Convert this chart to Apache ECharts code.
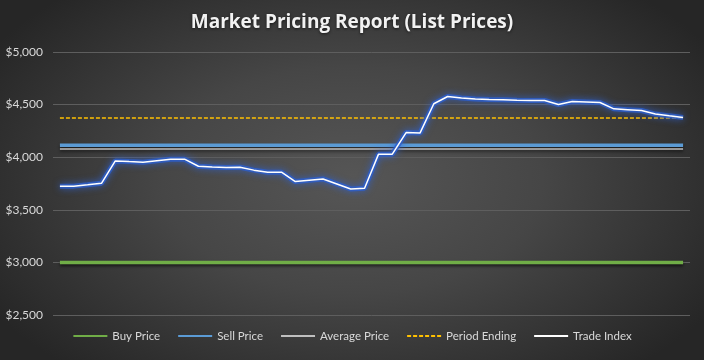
<!DOCTYPE html>
<html>
<head>
<meta charset="utf-8">
<script src="https://cdn.jsdelivr.net/npm/echarts@6/dist/echarts.min.js"></script>
<style>
html,body{margin:0;padding:0;}
#chart{width:704px;height:360px;background:radial-gradient(ellipse 60% 70% at 50% 50%, #565656 0%, #464646 45%, #262626 100%);}
</style>
</head>
<body>
<div id="chart"></div>
<script>
const titleText = 'Market Pricing Report (List Prices)';
const seriesNames = ['Buy Price', 'Sell Price', 'Average Price', 'Period Ending', 'Trade Index'];
const yTicks = { min: 2500, max: 5000, interval: 500 };
const tradeIndex = [3724, 3725, 3738, 3752, 3965, 3958, 3952, 3967, 3981, 3981,
  3914, 3908, 3903, 3905, 3877, 3857, 3857, 3768, 3781, 3793,
  3746, 3698, 3705, 4027, 4029, 4234, 4229, 4508, 4577, 4563,
  4553, 4549, 4546, 4541, 4539, 4539, 4501, 4530, 4525, 4520,
  4460, 4452, 4444, 4410, 4393, 4377];
const buyPriceValue = 3000;
const sellPriceValue = 4113;
const averagePriceValue = 4077;
const periodEndingValue = 4373;
const categories = tradeIndex.map((_, i) => 'P' + (i + 1));
const buyPrice = categories.map(() => buyPriceValue);
const sellPrice = categories.map(() => sellPriceValue);
const averagePrice = categories.map(() => averagePriceValue);
const periodEnding = categories.map(() => periodEndingValue);

const chart = echarts.init(document.getElementById('chart'), null, { renderer: 'canvas' });
const font = 'Lato, "Open Sans", sans-serif';
const dropShadow = { shadowColor: 'rgba(0,0,0,0.6)', shadowBlur: 3, shadowOffsetY: 2 };
chart.setOption({
  animation: false,
  title: {
    text: titleText, left: 'center', top: 8,
    textStyle: { color: '#f2f2f2', fontSize: 19, fontWeight: 'bold', fontFamily: '"Open Sans", Lato, sans-serif',
      textShadowColor: 'rgba(0,0,0,0.6)', textShadowBlur: 3, textShadowOffsetY: 1 }
  },
  legend: {
    bottom: 13, left: 'center', itemWidth: 34, itemHeight: 8, itemGap: 17,
    itemStyle: { opacity: 0 },
    textStyle: { color: '#d9d9d9', fontSize: 11.5, fontFamily: font },
    data: seriesNames
  },
  grid: { left: 53, right: 14, top: 52, bottom: 45 },
  xAxis: {
    type: 'category', data: categories, boundaryGap: true,
    axisLine: { show: false }, axisTick: { show: false }, axisLabel: { show: false }
  },
  yAxis: {
    type: 'value', min: yTicks.min, max: yTicks.max, interval: yTicks.interval,
    axisLine: { show: false }, axisTick: { show: false },
    axisLabel: { color: '#d9d9d9', fontSize: 12, fontFamily: font, margin: 10,
      formatter: v => '$' + v.toLocaleString('en-US') },
    splitLine: { lineStyle: { color: '#5e5e5e', width: 1 } }
  },
  series: [
    { name: seriesNames[0], type: 'line', data: buyPrice, symbol: 'none', color: '#70ad47',
      lineStyle: Object.assign({ color: '#70ad47', width: 3.5 }, dropShadow) },
    { name: seriesNames[1], type: 'line', data: sellPrice, symbol: 'none', color: '#5b9bd5',
      lineStyle: Object.assign({ color: '#5b9bd5', width: 3.5 }, dropShadow) },
    { name: seriesNames[2], type: 'line', data: averagePrice, symbol: 'none', color: '#bfbfbf',
      lineStyle: Object.assign({ color: '#bfbfbf', width: 1.5 }, dropShadow) },
    { name: seriesNames[3], type: 'line', data: periodEnding, symbol: 'none', color: '#ffc000',
      lineStyle: { color: '#ffc000', width: 1.5, type: [4, 2] } },
    { name: 'Trade Index glow', type: 'line', data: tradeIndex, symbol: 'none', silent: true,
      lineStyle: { color: 'rgba(45,95,205,0.8)', width: 5, shadowColor: '#2f62d0', shadowBlur: 7 } },
    { name: seriesNames[4], type: 'line', data: tradeIndex, symbol: 'none', color: '#ffffff',
      lineStyle: { color: '#ffffff', width: 1.5 } }
  ]
});
</script>
</body>
</html>
